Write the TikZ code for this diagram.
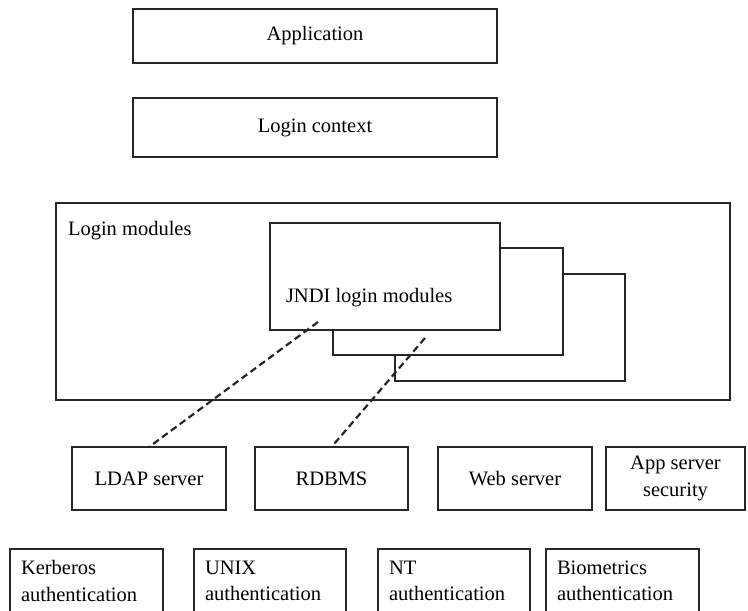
\documentclass[tikz,border=0pt]{standalone}
\usepackage{fontspec}
\setmainfont{Liberation Serif}
\begin{document}
\begin{tikzpicture}[x=1pt,y=-1pt,
  every node/.style={font=\fontsize{20.5}{26.5}\selectfont, inner sep=0pt, outer sep=0pt},
  box/.style={draw=black!85, line width=1.6pt, fill=white, anchor=north west, align=center},
  lbox/.style={box, align=left, inner xsep=11pt},
  dashline/.style={draw=black!85, line width=2.2pt, dash pattern=on 7pt off 4pt}]
\useasboundingbox (0,0) rectangle (748,611);
\clip (0,0) rectangle (748,611);
% top boxes
\node[box, minimum width=364pt, minimum height=54pt] (app) at (133,9) {Application};
\node[box, minimum width=364pt, minimum height=59pt] (ctx) at (133,98) {Login context};
% login modules container
\node[box, minimum width=674pt, minimum height=197pt] (lm) at (56,203) {};
\node[anchor=west] (lmlabel) at (68,231) {Login modules};
% stacked module boxes
\node[box, minimum width=230pt, minimum height=107pt] (m3) at (395,274) {};
\node[box, minimum width=230pt, minimum height=107pt] (m2) at (333,248) {};
\node[box, minimum width=230pt, minimum height=107pt] (m1) at (270,223) {};
\node[anchor=west] (jndi) at (286,298) {JNDI login modules};
% servers
\node[box, minimum width=154pt, minimum height=63pt] (ldap) at (72,447) {LDAP server};
\node[box, minimum width=153pt, minimum height=63pt] (rdbms) at (255,447) {RDBMS};
\node[box, minimum width=154pt, minimum height=63pt] (web) at (438,447) {Web server};
\node[box, minimum width=139pt, minimum height=63pt] (appsec) at (606,447) {App server\\security};
% connectors
\coordinate (c1) at (318,322);
\coordinate (c2) at (425,338);
\draw[dashline] (c1) -- (ldap.north);
\draw[dashline] (c2) -- (rdbms.north);
% authentication boxes
\node[lbox, text width=131pt, minimum height=64pt] (kerb) at (10,549) {Kerberos\\authentication};
\node[lbox, text width=130pt, minimum height=64pt] (unix) at (194,549) {UNIX\\authentication};
\node[lbox, text width=130pt, minimum height=64pt] (nt) at (378,549) {NT\\authentication};
\node[lbox, text width=131pt, minimum height=64pt] (bio) at (546,549) {Biometrics\\authentication};
\end{tikzpicture}
\end{document}
